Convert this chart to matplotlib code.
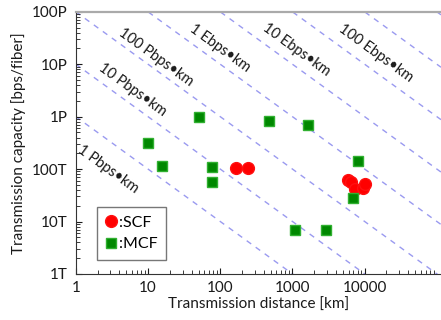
import matplotlib
matplotlib.use("Agg")
import matplotlib.pyplot as plt
import numpy as np

plt.rcParams['font.family'] = ['Lato', 'DejaVu Sans']

# single-core fibre results (km, bps)
scf_dist = [167, 245, 5800, 6500, 7260, 9500, 10000]
scf_cap = [1.05e14, 1.05e14, 6.1e13, 5.6e13, 4.1e13, 4.4e13, 5.2e13]

# multi-core fibre results (km, bps)
mcf_dist = [10, 15.6, 50, 78, 78, 466, 1100, 1620, 2880, 6880, 8070]
mcf_cap = [3.2e14, 1.15e14, 1.0e15, 1.1e14, 5.6e13, 8.4e14, 7e12, 7.0e14, 7e12,
           2.86e13, 1.44e14]

# capacity x distance products (bps*km)
products = [1e15, 1e16, 1e17, 1e18, 1e19, 1e20, 1e21, 1e22]
product_labels = ['1 Pbps\u2022km', '10 Pbps\u2022km', '100 Pbps\u2022km',
                  '1 Ebps\u2022km', '10 Ebps\u2022km', '100 Ebps\u2022km']
label_x = [4.35, 4.8, 10.6, 77, 880, 10600]
label_shift = [-17, 9, 7, 9, 10, 11]  # points, above(+)/below(-) the line

x_ticks = [1, 10, 100, 1000, 10000]
x_ticklabels = ['1', '10', '100', '1000', '10000']
y_ticks = [1e12, 1e13, 1e14, 1e15, 1e16, 1e17]
y_ticklabels = ['1T', '10T', '100T', '1P', '10P', '100P']

fig = plt.figure(figsize=(4.41, 3.2), dpi=100)
ax = fig.add_axes([0.172, 0.144, 0.828, 0.819])
ax.set_xscale('log')
ax.set_yscale('log')
ax.set_xlim(1, 1.14e5)
ax.set_ylim(1e12, 1e17)

xx = np.array([1, 1.14e5])
for k in products:
    ax.plot(xx, k / xx, color='#9a9af0', lw=1.0, dashes=(4, 4), zorder=1)

ax.plot(scf_dist, scf_cap, 'o', color='#ff0000', ms=8.5, mec='#ff1010',
        ls='none', zorder=3, label=':SCF')
ax.plot(mcf_dist, mcf_cap, 's', color='#008800', ms=6.5, mec='#30b030',
        mew=1.0, ls='none', zorder=3, label=':MCF')

# rotate labels to follow the lines on screen
p0 = ax.transData.transform((1, 1e17))
p1 = ax.transData.transform((10, 1e16))
angle = np.degrees(np.arctan2(p1[1] - p0[1], p1[0] - p0[0]))
nx = -np.sin(np.radians(angle))
ny = np.cos(np.radians(angle))
for k, lab, lx, sh in zip(products, product_labels, label_x, label_shift):
    ax.annotate(lab, xy=(lx, k / lx), xytext=(sh * nx, sh * ny),
                textcoords='offset points', ha='center', va='center',
                rotation=angle, rotation_mode='anchor', fontsize=10.5,
                color='#1a1a1a')

ax.set_xticks(x_ticks)
ax.set_xticklabels(x_ticklabels)
ax.set_yticks(y_ticks)
ax.set_yticklabels(y_ticklabels)
ax.tick_params(which='both', direction='in', labelsize=11, colors='#1a1a1a')
ax.tick_params(which='major', length=4, width=0.8)
ax.tick_params(which='minor', length=3, width=0.6)
ax.tick_params(axis='y', pad=6)
ax.tick_params(axis='x', pad=5)

ax.spines['right'].set_visible(False)
ax.spines['top'].set_color('#aaaaaa')
ax.spines['top'].set_linewidth(1.6)
ax.spines['left'].set_color('#333333')
ax.spines['bottom'].set_color('#333333')

ax.set_xlabel('Transmission distance [km]', fontsize=11, color='#1a1a1a',
              labelpad=2)
ax.set_ylabel('Transmission capacity [bps/fiber]', fontsize=11,
              color='#1a1a1a', labelpad=4)

leg = ax.legend(loc='lower left', bbox_to_anchor=(0.058, 0.053),
                borderaxespad=0, fancybox=False, fontsize=11.5,
                handlelength=0.6, handletextpad=0.2, borderpad=0.55,
                labelspacing=0.45, edgecolor='#777777', framealpha=1)
leg.get_frame().set_linewidth(1.0)

fig.savefig('out.png', dpi=100)
